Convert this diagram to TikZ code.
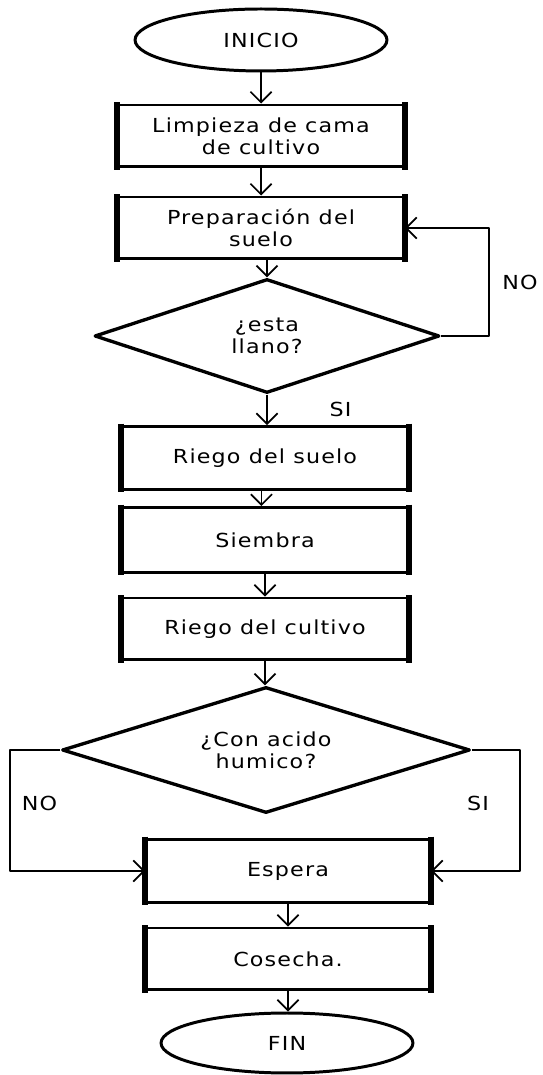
\documentclass[tikz,border=0pt]{standalone}
\usepackage{fontspec}
\setmainfont{DejaVu Sans}[FakeStretch=1.15,LetterSpace=6]
\usetikzlibrary{arrows.meta,positioning,shapes.geometric}
\tikzset{
  base/.style={%
    draw,align=center,
    font=\fontsize{11}{12.5}\selectfont,
  },
  terminal/.style={%
    base,ellipse,
    line width=1.7pt,
    minimum width=5.04cm,
    minimum height=1.24cm,
  },
  process/.style={%
    base,rectangle,
    line width=1.7pt,
    minimum width=5.7cm,
    minimum height=1.24cm,
  },
  decision/.style 2 args={%
    base,diamond,
    line width=1.9pt,
    aspect=3,
    inner sep=0pt,
    minimum width=#1,
    minimum height=#2,
  },
  flowlabel/.style={%
    font=\fontsize{11}{12.5}\selectfont,
    inner sep=1pt
  }
}

\begin{document}
\begin{tikzpicture}[
    x=0.02cm,y=0.02cm,
    line width=1pt,
    >={Straight Barb[length=6pt,width=12pt]},
    line join=round,
]
\useasboundingbox (0,0) rectangle (543,1075);
\node[terminal] (inicio) at (261,1035) {INICIO};
\node[process] (limpieza) at (261,939) {Limpieza de cama\\de cultivo};
\node[process] (preparacion) at (261,847) {Preparación del\\suelo};
\node[decision={6.9cm}{2.28cm}] (llano) at (267,739) {¿esta\\llano?};
\node[process,minimum height=1.26cm] (riegosuelo) at (265,617) {Riego del suelo};
\node[process,minimum height=1.3cm] (siembra) at (265,535) {Siembra};
\node[process] (riegocultivo) at (265,446) {Riego del cultivo};
\node[decision={8.16cm}{2.52cm}] (acido) at (266,325) {¿Con acido\\humico?};
\node[process,minimum width=5.66cm,minimum height=1.26cm] (espera) at (288,204) {Espera};
\node[process,minimum width=5.66cm] (cosecha) at (288,116) {Cosecha.};
\node[terminal,minimum height=1.2cm] (fin) at (287,32) {FIN};
% thick sides of the boxes
\foreach \n in {limpieza,preparacion,riegosuelo,siembra,riegocultivo,espera,cosecha}
    \draw[line width=3pt]
        ([yshift=.85pt]\n.north west) -- ([yshift=-.85pt]\n.south west)
        ([yshift=.85pt]\n.north east) -- ([yshift=-.85pt]\n.south east);
% main line
\draw[->] (inicio.south) -- (inicio.south |- limpieza.north);
\draw[->] (limpieza.south) -- (limpieza.south |- preparacion.north);
\draw[->] (llano.north |- preparacion.south) -- (llano.north);
\draw[->] (llano.south) -- node[pos=0.5,right=1.2cm,flowlabel] {SI} (llano.south |- riegosuelo.north);
\draw[->] ([xshift=-2]riegosuelo.south) -- ([xshift=-2]riegosuelo.south |- siembra.north);
\draw[->] (siembra.south) -- (siembra.south |- riegocultivo.north);
\draw[->] (riegocultivo.south) -- (riegocultivo.south |- acido.north);
\draw[->] (espera.south) -- (espera.south |- cosecha.north);
\draw[->] (cosecha.south) -- (cosecha.south |- fin.north);
% loops
\draw[->] (llano.east) -- ++(48,0) |- node[pos=0.25,right=6pt,flowlabel] {NO} (preparacion.east);
\draw[->] (acido.west) -- ++(-50,0) |- node[pos=0.22,right=5pt,flowlabel] {NO} (espera.west);
\draw[->] (acido.east) -- ++(48,0) |- node[pos=0.22,left=16pt,flowlabel] {SI} (espera.east);
\end{tikzpicture}
\end{document}
